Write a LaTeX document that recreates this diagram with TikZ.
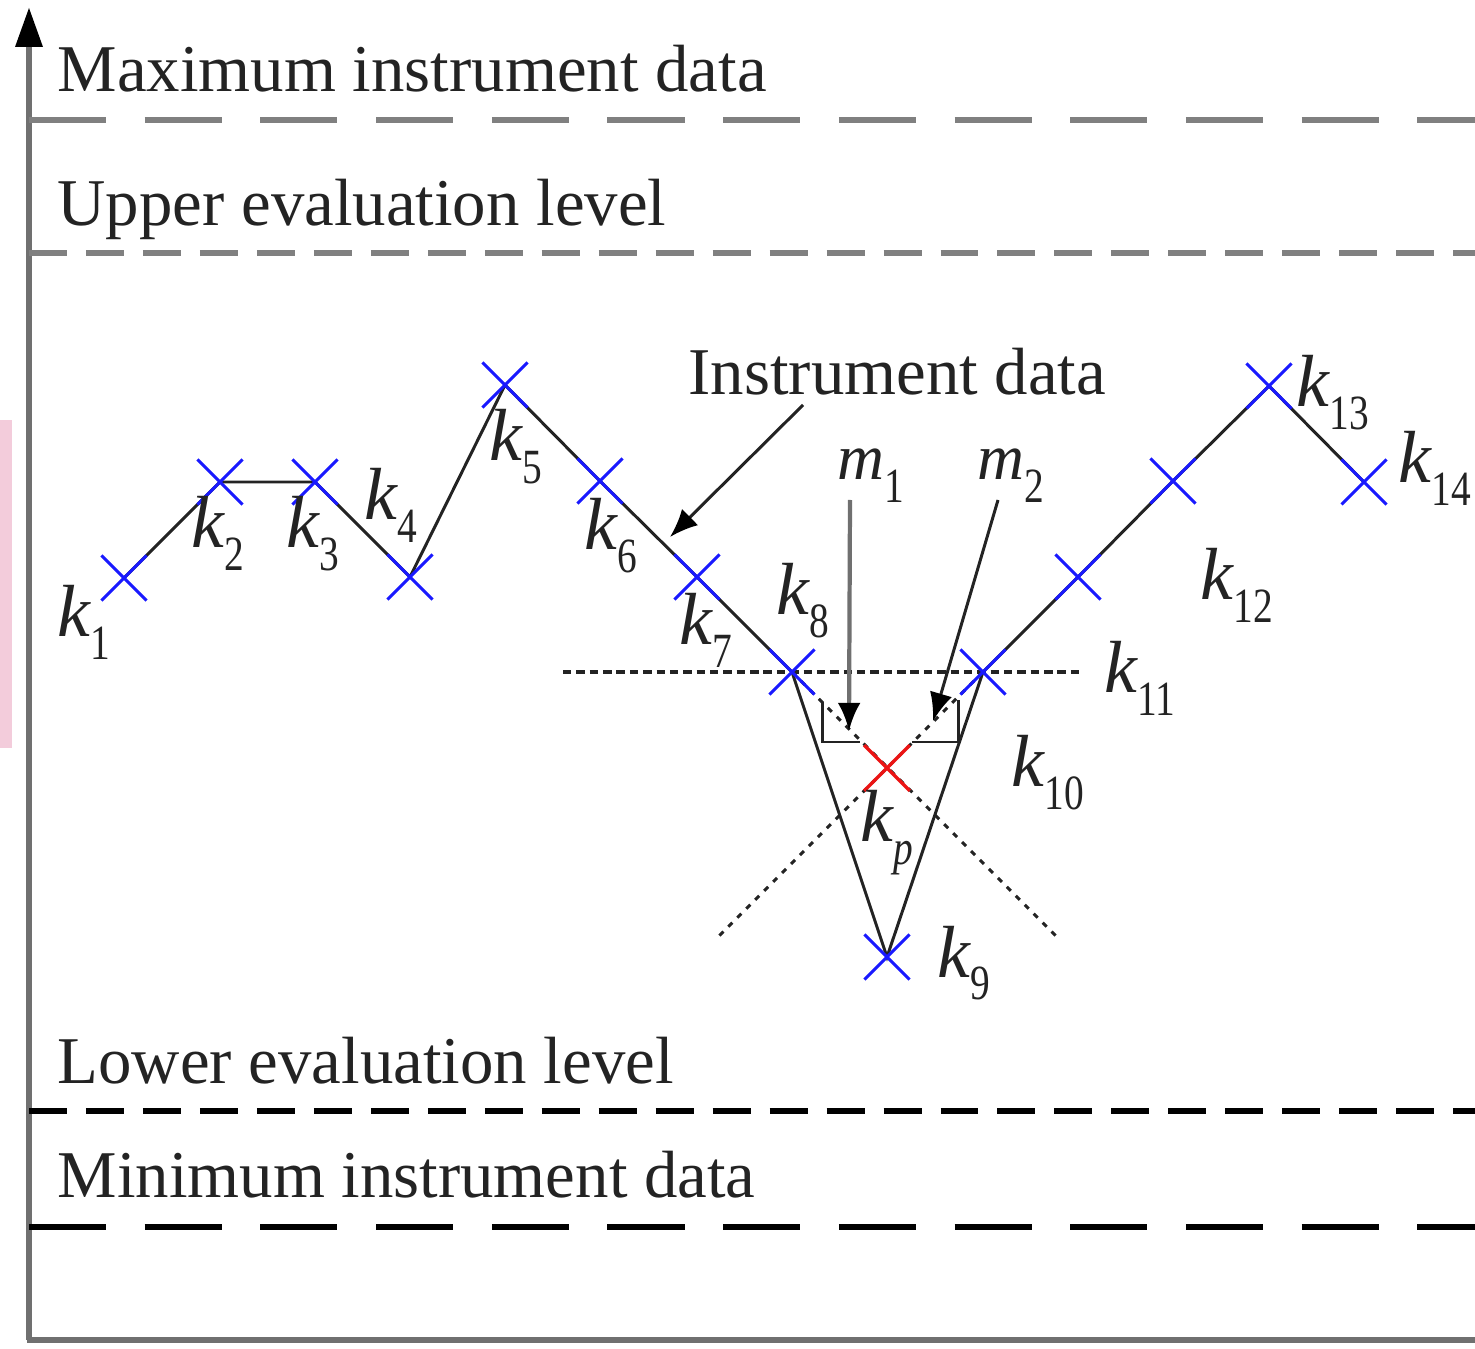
\documentclass[tikz,border=0pt]{standalone}
\usepackage{fontspec}
\setmainfont{Liberation Serif}
\usetikzlibrary{shapes.misc,arrows.meta}

\definecolor{axisgray}{RGB}{112,112,112}
\definecolor{dashgray}{RGB}{128,128,128}
\definecolor{ptblue}{RGB}{25,25,255}
\definecolor{ptred}{RGB}{235,20,20}
\definecolor{pinkbar}{RGB}{243,204,219}
\definecolor{inkgray}{RGB}{35,35,35}

\newcommand{\ksub}[2]{{\fontsize{21pt}{24pt}\selectfont\itshape #1}\raisebox{-6.3pt}{\scalebox{0.8}[1]{\fontsize{14pt}{16pt}\selectfont #2}}}
\newcommand{\msub}[2]{{\fontsize{18.5pt}{22pt}\selectfont\itshape #1}\raisebox{-6.5pt}{\scalebox{0.8}[1]{\fontsize{14pt}{16pt}\selectfont #2}}}

\pgfdeclarelayer{lines}
\pgfsetlayers{lines,main}

\begin{document}
\begin{tikzpicture}[x=0.01cm,y=-0.01cm,
  ptmark/.style={draw=ptblue, cross out, line width=0.85pt, minimum size=0.42cm, inner sep=0pt},
  ptmarkred/.style={ptmark, draw=ptred},
  dline/.style={line width=0.85pt, inkgray},
  dotline/.style={line width=0.85pt, inkgray, dash pattern=on 1.6pt off 2pt},
  hdot/.style={line width=1pt, inkgray, dash pattern=on 2.4pt off 1.4pt},
  axisline/.style={line width=1.6pt, axisgray},
  longdash/.style={line width=1.7pt, dash pattern=on 21.9pt off 11pt},
  shortdash/.style={line width=1.7pt, dash pattern=on 10.8pt off 5.4pt},
  lbl/.style={anchor=base west, inner sep=0pt, text=inkgray},
  bigtext/.style={anchor=base west, inner sep=0pt, text=inkgray, font=\fontsize{19pt}{22pt}\selectfont},
  arr/.style={-{Latex[length=8pt,width=6.5pt,color=black]}, line width=0.85pt, inkgray}
]
\useasboundingbox (0,0) rectangle (1475,1349);

% faint pink strip at left edge
\fill[pinkbar] (0,420) rectangle (12,748);

% axes
\draw[axisline] (29,1340) -- (29,45);
\draw[axisline] (27,1340) -- (1475,1340);
\fill[black] (29,8) -- (15,47) -- (43,47) -- cycle;

% level lines
\draw[longdash, dashgray] (29,120) -- (1475,120);
\draw[shortdash, dashgray] (29,253) -- (1475,253);
\draw[shortdash, black] (29,1111) -- (1475,1111);
\draw[longdash, black] (29,1227) -- (1475,1227);

% level texts
\node[bigtext] (tmax) at (57,92) {Maximum instrument data};
\node[bigtext] (tup) at (57,226) {Upper evaluation level};
\node[bigtext] (tlow) at (57,1083) {Lower evaluation level};
\node[bigtext] (tmin) at (57,1197) {Minimum instrument data};
\node[bigtext] (tinst) at (688,395) {Instrument data};

% data points
\node[ptmark] (k1) at (124,578) {};
\node[ptmark] (k2) at (220,482) {};
\node[ptmark] (k3) at (315,482) {};
\node[ptmark] (k4) at (410,577) {};
\node[ptmark] (k5) at (505,385) {};
\node[ptmark] (k6) at (600,481) {};
\node[ptmark] (k7) at (697,577) {};
\node[ptmark] (k8) at (792,672) {};
\node[ptmark] (k9) at (887,957) {};
\node[ptmark] (k11) at (983,672) {};
\node[ptmark] (k10) at (1078,577) {};
\node[ptmark] (k12) at (1173,481) {};
\node[ptmark] (k13) at (1269,386) {};
\node[ptmark] (k14) at (1364,482) {};
\node[ptmarkred, line width=1pt] (kp) at (887,768) {};

\begin{pgfonlayer}{lines}
% dotted construction lines
\coordinate (hl) at (563,672);
\coordinate (hr) at (1080,672);
\draw[hdot] (hl) -- (hr);
\coordinate (dr) at (1060,940);
\coordinate (dl) at (715,940);
\draw[dotline] (k8.center) -- (dr);
\draw[dotline] (k11.center) -- (dl);

% instrument data polyline
\draw[dline] (k1.center) -- (k2.center) -- (k3.center) -- (k4.center) -- (k5.center)
  -- (k6.center) -- (k7.center) -- (k8.center) -- (k9.center) -- (k11.center)
  -- (k10.center) -- (k12.center) -- (k13.center) -- (k14.center);

% right-angle marks
\draw[dline] (822,702) -- (822,742) -- (860,742);
\draw[dline] (958,700) -- (958,742) -- (912,742);
\end{pgfonlayer}

% arrows
\coordinate (ia) at (803,405);
\coordinate (ib) at (670,537);
\draw[arr] (ia) -- (ib);
\coordinate (m1a) at (850,500);
\coordinate (m1b) at (849,731);
\draw[arr, line width=1.2pt, color=axisgray] (m1a) -- (m1b);
\coordinate (m2a) at (998,500);
\coordinate (m2b) at (933,721);
\draw[arr] (m2a) -- (m2b);

% labels
\node[lbl] (l1) at (57,637) {\ksub{k}{1}};
\node[lbl] (l2) at (191,548) {\ksub{k}{2}};
\node[lbl] (l3) at (286,548) {\ksub{k}{3}};
\node[lbl] (l4) at (364,520) {\ksub{k}{4}};
\node[lbl] (l5) at (489,461) {\ksub{k}{5}};
\node[lbl] (l6) at (584,550) {\ksub{k}{6}};
\node[lbl] (l7) at (679,645) {\ksub{k}{7}};
\node[lbl] (l8) at (776,615) {\ksub{k}{8}};
\node[lbl] (l9) at (937,977) {\ksub{k}{9}};
\node[lbl] (l10) at (1011,787) {\ksub{k}{10}};
\node[lbl] (l11) at (1104,693) {\ksub{k}{11}};
\node[lbl] (l12) at (1200,600) {\ksub{k}{12}};
\node[lbl] (l13) at (1296,407) {\ksub{k}{13}};
\node[lbl] (l14) at (1398,483) {\ksub{k}{14}};
\node[lbl] (lp) at (860,842) {\ksub{k}{\itshape p}};
\node[lbl] (lm1) at (837,480) {\msub{m}{1}};
\node[lbl] (lm2) at (977,480) {\msub{m}{2}};
\end{tikzpicture}
\end{document}
